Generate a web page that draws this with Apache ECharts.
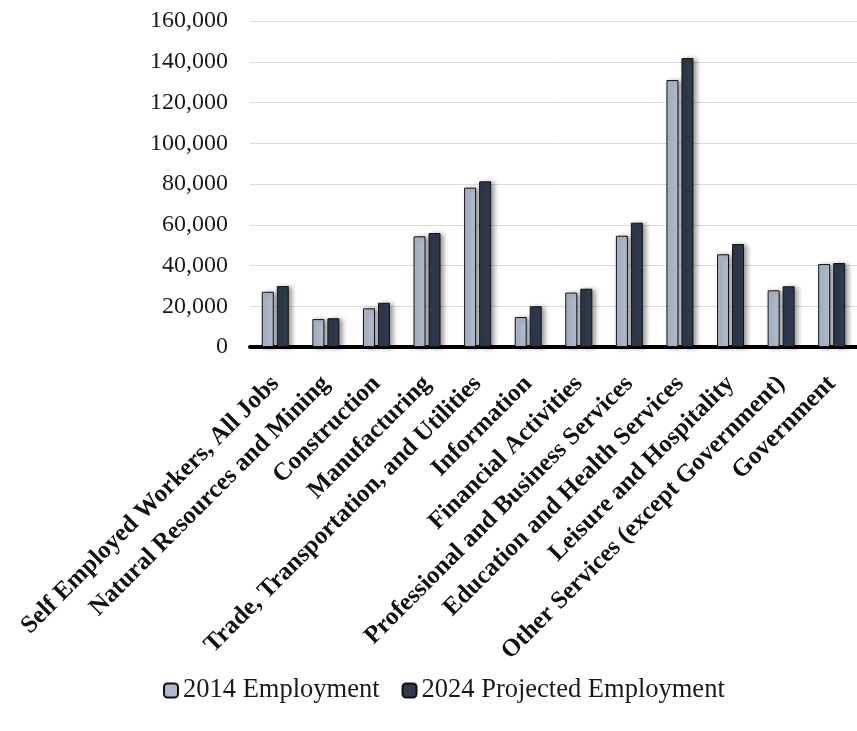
<!DOCTYPE html>
<html>
<head>
<meta charset="UTF-8">
<title>Employment by industry</title>
<script src="https://cdn.jsdelivr.net/npm/echarts@6/dist/echarts.min.js"></script>
<style>
body {
    margin: 0;
    padding: 0;
    background: #ffffff;
}
#main {
    width: 857px;
    height: 731px;
}
</style>
</head>
<body>
<div id="main"></div>
<script>
// categories and values
var categories = [
    'Self Employed Workers, All Jobs',
    'Natural Resources and Mining',
    'Construction',
    'Manufacturing',
    'Trade, Transportation, and Utilities',
    'Information',
    'Financial Activities',
    'Professional and Business Services',
    'Education and Health Services',
    'Leisure and Hospitality',
    'Other Services (except Government)',
    'Government'
];
var seriesNames = ['2014 Employment', '2024 Projected Employment'];
var emp2014 = [27100, 13700, 19000, 54300, 78200, 14700, 26700, 54600, 131000, 45500, 27800, 40700];
var emp2024 = [29900, 14100, 21700, 55900, 81300, 20000, 28600, 61000, 141800, 50500, 29800, 41200];

var chart = echarts.init(document.getElementById('main'));

var serif = '"Liberation Serif", "DejaVu Serif", serif';

var barStyle = function (color) {
    return {
        color: color,
        borderColor: '#111111',
        borderWidth: 1,
        shadowColor: 'rgba(0,0,0,0.4)',
        shadowBlur: 5,
        shadowOffsetX: 3,
        shadowOffsetY: 1
    };
};

var option = {
    animation: false,
    backgroundColor: '#ffffff',
    grid: {
        left: 250,
        top: 21,
        width: 611,
        height: 326
    },
    legend: {
        data: seriesNames,
        left: 158,
        top: 672,
        itemWidth: 14,
        itemHeight: 14,
        itemGap: 22,
        textStyle: {
            fontFamily: serif,
            fontSize: 26.5,
            color: '#1a1a1a'
        }
    },
    xAxis: {
        type: 'category',
        data: categories,
        axisLine: {
            lineStyle: { color: '#000000', width: 4 }
        },
        axisTick: { show: false },
        axisLabel: {
            interval: 0,
            rotate: 45,
            margin: 33,
            fontFamily: serif,
            fontWeight: 'bold',
            fontSize: 25,
            color: '#111111'
        }
    },
    yAxis: {
        type: 'value',
        min: 0,
        max: 160000,
        interval: 20000,
        axisLine: { show: false },
        axisTick: { show: false },
        splitLine: {
            lineStyle: { color: '#dcdcdc', width: 1 }
        },
        axisLabel: {
            margin: 22,
            fontFamily: serif,
            fontSize: 24,
            color: '#1a1a1a',
            formatter: function (v) {
                return v.toLocaleString('en-US');
            }
        }
    },
    series: [
        {
            name: seriesNames[0],
            type: 'bar',
            data: emp2014,
            barWidth: 12,
            barGap: '25%',
            itemStyle: barStyle('#afbbcc')
        },
        {
            name: seriesNames[1],
            type: 'bar',
            data: emp2024,
            barWidth: 12,
            itemStyle: barStyle('#2f3a4d')
        }
    ]
};
chart.setOption(option);
</script>
</body>
</html>
